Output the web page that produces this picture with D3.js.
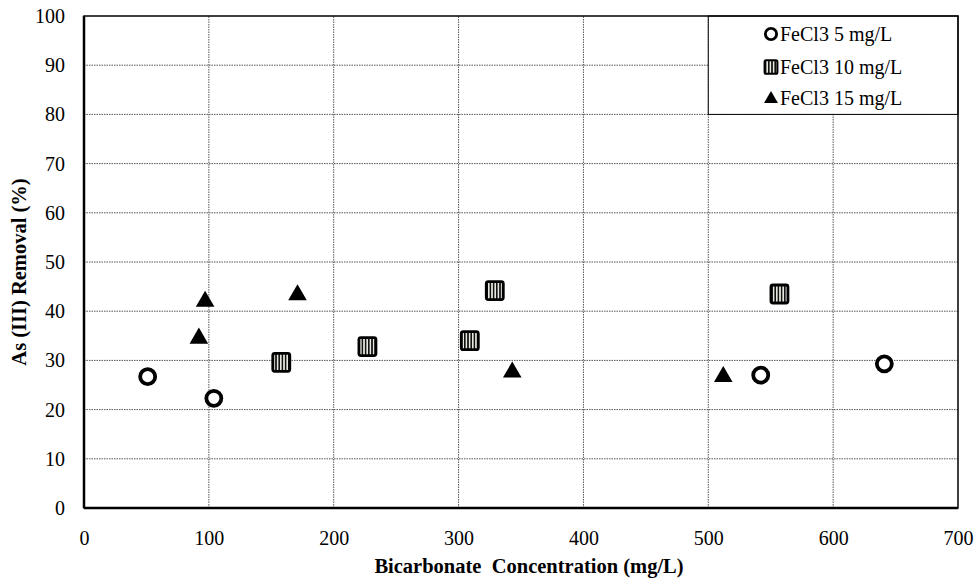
<!DOCTYPE html>
<html lang="en">
<head>
  <meta charset="UTF-8">
  <title>As(III) Removal vs Bicarbonate</title>
  <style>
    body { margin: 0; background: #fff; }
    .grid line { stroke: #555; stroke-width: 1; stroke-dasharray: 1.5,1; }
  </style>
</head>
<body>
<svg id="chart" width="979" height="584"></svg>
<script src="https://d3js.org/d3.v7.min.js"></script>
<script>
  // series: bicarbonate (mg/L) vs As(III) removal (%)
  const fe5X = [51, 104, 542, 641];
  const fe5Y = [26.7, 22.3, 27.0, 29.3];

  const fe10X = [158, 227, 309, 329, 557];
  const fe10Y = [29.6, 32.8, 34.0, 44.2, 43.5];

  const fe15X = [92, 97, 171, 343, 512];
  const fe15Y = [34.7, 42.2, 43.5, 27.8, 26.9];

  const seriesNames = ['FeCl3 5 mg/L', 'FeCl3 10 mg/L', 'FeCl3 15 mg/L'];
  const xTicks = [0, 100, 200, 300, 400, 500, 600, 700];
  const yTicks = [0, 10, 20, 30, 40, 50, 60, 70, 80, 90, 100];

  const FONT = "'Liberation Serif', 'DejaVu Serif', serif";

  const margin = { left: 84, top: 16, right: 21, bottom: 76 };
  const width = 979, height = 584;

  const x = d3.scaleLinear().domain([0, 700]).range([margin.left, width - margin.right]);
  const y = d3.scaleLinear().domain([0, 100]).range([height - margin.bottom, margin.top]);

  const svg = d3.select('#chart').style('font-family', FONT);

  // stripe pattern for the square markers
  const defs = svg.append('defs');
  const pat = defs.append('pattern')
    .attr('id', 'stripes')
    .attr('patternUnits', 'userSpaceOnUse')
    .attr('width', 3.2).attr('height', 10);
  pat.append('rect').attr('width', 3.2).attr('height', 10).attr('fill', '#e8e8e0');
  pat.append('rect').attr('width', 1.6).attr('height', 10).attr('fill', '#111');

  // gridlines
  const grid = svg.append('g').attr('class', 'grid');
  grid.selectAll('.gx')
    .data(xTicks.slice(1, -1))
    .enter().append('line')
    .attr('x1', d => x(d)).attr('x2', d => x(d))
    .attr('y1', y(0)).attr('y2', y(100));
  grid.selectAll('.gy')
    .data(yTicks.slice(1, -1))
    .enter().append('line')
    .attr('x1', x(0)).attr('x2', x(700))
    .attr('y1', d => y(d)).attr('y2', d => y(d));

  // axes (labels only, frame drawn separately)
  const xAxis = svg.append('g')
    .attr('transform', `translate(0,${y(0)})`)
    .call(d3.axisBottom(x).tickValues(xTicks).tickSize(0).tickPadding(23));
  xAxis.select('.domain').remove();
  xAxis.selectAll('text')
    .style('font-family', FONT).style('font-size', '20px').attr('fill', '#000');

  const yAxis = svg.append('g')
    .attr('transform', `translate(${x(0)},0)`)
    .call(d3.axisLeft(y).tickValues(yTicks).tickSize(0).tickPadding(19));
  yAxis.select('.domain').remove();
  yAxis.selectAll('text')
    .style('font-family', FONT).style('font-size', '20px').attr('fill', '#000');

  // legend box (covers gridlines)
  const legX = x(500), legY = y(100), legW = x(700) - x(500), legH = y(80) - y(100);
  svg.append('rect')
    .attr('x', legX).attr('y', legY).attr('width', legW).attr('height', legH)
    .attr('fill', '#fff').attr('stroke', '#000').attr('stroke-width', 1);

  // plot frame
  svg.append('rect')
    .attr('x', x(0)).attr('y', y(100))
    .attr('width', x(700) - x(0)).attr('height', y(0) - y(100))
    .attr('fill', 'none').attr('stroke', '#000').attr('stroke-width', 1.5);
  svg.append('line')
    .attr('x1', x(0)).attr('x2', x(0)).attr('y1', y(100)).attr('y2', y(0))
    .attr('stroke', '#000').attr('stroke-width', 2.5);
  svg.append('line')
    .attr('x1', x(0)).attr('x2', x(700)).attr('y1', y(0)).attr('y2', y(0))
    .attr('stroke', '#000').attr('stroke-width', 2.5);

  // marker drawers
  function drawCircle(g, cx, cy, s) {
    g.append('circle').attr('cx', cx).attr('cy', cy).attr('r', 7.5 * s)
      .attr('fill', '#fff').attr('stroke', '#000').attr('stroke-width', 3.8 * s);
  }
  function drawSquare(g, cx, cy, s) {
    const w = 17 * s, h = 18 * s;
    g.append('rect').attr('x', cx - w / 2).attr('y', cy - h / 2)
      .attr('width', w).attr('height', h).attr('rx', 2 * s)
      .attr('fill', 'url(#stripes)').attr('stroke', '#000').attr('stroke-width', 2.8 * s);
  }
  function drawTriangle(g, cx, cy, s) {
    const tri = d3.symbol().type(d3.symbolTriangle).size(150 * s * s);
    g.append('path').attr('d', tri).attr('transform', `translate(${cx},${cy + 1})`)
      .attr('fill', '#000');
  }

  const marks = svg.append('g');
  fe5X.forEach((v, i) => drawCircle(marks, x(v), y(fe5Y[i]), 1));
  fe10X.forEach((v, i) => drawSquare(marks, x(v), y(fe10Y[i]), 1));
  fe15X.forEach((v, i) => drawTriangle(marks, x(v), y(fe15Y[i]), 1));

  // legend entries
  const legend = svg.append('g');
  const drawers = [drawCircle, drawSquare, drawTriangle];
  const rowY = [34, 67, 98];
  seriesNames.forEach((name, i) => {
    drawers[i](legend, 771, rowY[i], 0.75);
    legend.append('text')
      .style('font-family', FONT).style('font-size', '20px')
      .attr('x', 780).attr('y', rowY[i] + 7).text(name);
  });

  // axis titles
  svg.append('text')
    .style('font-family', FONT).style('font-size', '20.5px').style('font-weight', 'bold')
    .style('white-space', 'pre')
    .attr('x', (x(0) + x(700)) / 2 + 8).attr('y', 573)
    .attr('text-anchor', 'middle')
    .text('Bicarbonate  Concentration (mg/L)');

  svg.append('text')
    .style('font-family', FONT).style('font-size', '20.5px').style('font-weight', 'bold')
    .attr('transform', `translate(26,${(y(0) + y(100)) / 2 + 10}) rotate(-90)`)
    .attr('text-anchor', 'middle')
    .text('As (III) Removal (%)');
</script>
</body>
</html>
